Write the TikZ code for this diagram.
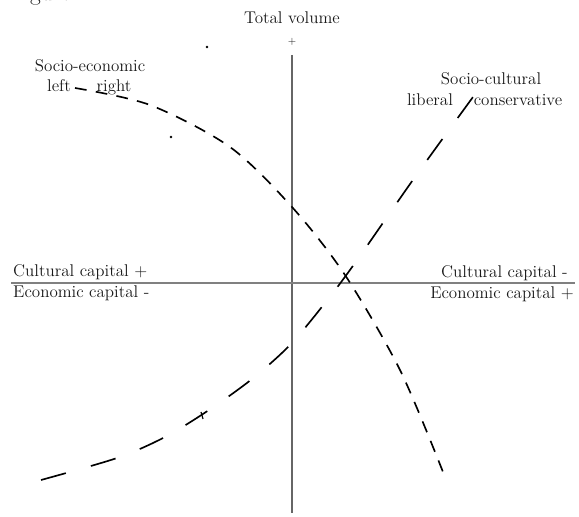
\documentclass[tikz,border=0pt]{standalone}
\usepackage{tikz}
\usetikzlibrary{positioning,calc}
\tikzstyle{axislabel} = [text=black!90, font=\fontsize{14.5}{16}\selectfont, inner sep=0pt]
\tikzstyle{vaxis} = [draw=black!60, line width=1.6pt]
\tikzstyle{haxis} = [draw=black!50, line width=1.2pt]
\tikzstyle{economic} = [draw, line width=1.4pt, dash pattern=on 10pt off 8pt]
\tikzstyle{cultural} = [draw, line width=1.4pt, dash pattern=on 22pt off 22.2pt]
\tikzstyle{speck} = [fill, circle, inner sep=0pt, minimum size=2.5pt]
\begin{document}
\begin{tikzpicture}[x=0.03cm, y=-0.03cm, node distance=2pt]
    \useasboundingbox (0,0) rectangle (579,517);
    \clip (0,0) rectangle (579,517);
    % Title, cut off at the top
    \node [axislabel, font=\fontsize{20}{24}\selectfont, anchor=base west] (figure) at (10,1) {Figure 1.};
    
    % Axes
    \coordinate (top) at (292,55);
    \coordinate (bottom) at (292,513);
    \coordinate (west) at (11,283);
    \coordinate (east) at (575,283);
    \draw [vaxis] (top) -- (bottom);
    \draw [haxis] (west) -- (east);
    
    % Axis labels
    \node [axislabel, anchor=base] (volume) at (292,24) {Total volume};
    \node [axislabel, font=\fontsize{9}{10}\selectfont] (plus) at (292,42) {+};
    \node [axislabel, anchor=base west] (cultplus) at (13,277) {Cultural capital +};
    \node [axislabel, anchor=base west] (econminus) at (13,298) {Economic capital -};
    \node [axislabel, anchor=base east] (cultminus) at (568,278) {Cultural capital -};
    \node [axislabel, anchor=base east] (econplus) at (574,299) {Economic capital +};
    
    % Curve labels
    \node [axislabel, anchor=base] (socecon) at (90,72) {Socio-economic};
    \node [axislabel, anchor=base] (left) at (59,92) {left};
    \node [axislabel, anchor=base] (right) at (114,92) {right};
    \node [axislabel, anchor=base] (soccult) at (491,85) {Socio-cultural};
    \node [axislabel, anchor=base] (liberal) at (430,106) {liberal};
    \node [axislabel, anchor=base] (conservative) at (518,106) {conservative};
    
    % Dashed curves
    \draw [economic] plot [smooth] coordinates {(75,88) (150,105) (230,147) (292,207) (345,275) (400,370) (443,472)};
    \draw [cultural] plot [smooth] coordinates {(41,480) (117,458) (165,437) (209,410) (252,379) (290,345) (325,303) (355,263) (415,177) (473,97)};
    
    % Specks
    \node [speck] (speckA) at (207,47) {};
    \node [speck] (speckB) at (171,137) {};
    \draw [line width=1pt] (201,412) -- (203,419);
\end{tikzpicture}
\end{document}
